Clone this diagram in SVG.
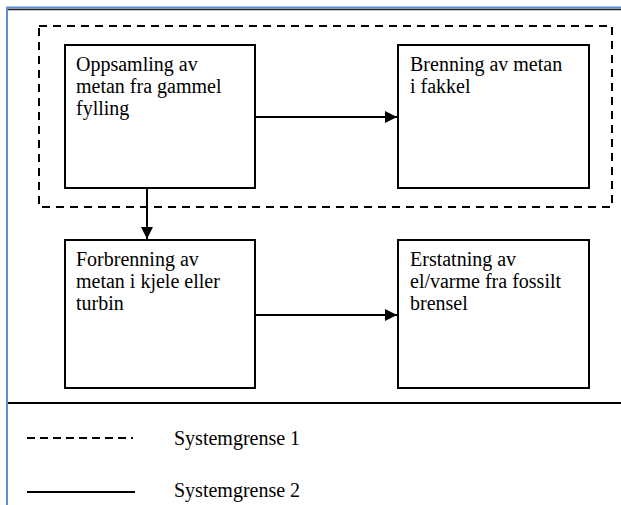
<svg xmlns="http://www.w3.org/2000/svg" width="621" height="505" viewBox="0 0 621 505">
<defs>
<marker id="ah" markerWidth="12" markerHeight="12" refX="12" refY="6" orient="auto" markerUnits="userSpaceOnUse">
<path d="M0,0 L12,6 L0,12 Z" fill="#000"/>
</marker>
<style>
.box{fill:#fff;stroke:#000;stroke-width:2}
.t{font-family:"Liberation Serif",serif;font-size:20px;fill:#000}
.c{stroke:#000;stroke-width:2;fill:none}
</style>
</defs>
<rect width="621" height="505" fill="#fff"/>
<g id="frame">
<line x1="6.5" y1="7.5" x2="621" y2="7.5" stroke="#5b8fd0" stroke-width="2"/>
<line x1="8" y1="9.5" x2="621" y2="9.5" stroke="#222" stroke-width="1.5"/>
<line x1="7" y1="7" x2="7" y2="505" stroke="#5b8fd0" stroke-width="2"/>
<line x1="8" y1="403" x2="621" y2="403" stroke="#000" stroke-width="2"/>
</g>
<g id="boundary1">
<rect x="39" y="26" width="573" height="181" fill="none" stroke="#000" stroke-width="2" stroke-dasharray="8,6"/>
</g>
<g id="n1">
<rect class="box" x="65" y="45" width="190" height="143"/>
<text class="t" x="76" y="71">Oppsamling av</text>
<text class="t" x="76" y="93">metan fra gammel</text>
<text class="t" x="76" y="115">fylling</text>
</g>
<g id="n2">
<rect class="box" x="398" y="45" width="191" height="143"/>
<text class="t" x="410" y="71">Brenning av metan</text>
<text class="t" x="410" y="93">i fakkel</text>
</g>
<g id="n3">
<rect class="box" x="65" y="240" width="190" height="148"/>
<text class="t" x="76" y="266">Forbrenning av</text>
<text class="t" x="76" y="288">metan i kjele eller</text>
<text class="t" x="76" y="310">turbin</text>
</g>
<g id="n4">
<rect class="box" x="398" y="240" width="191" height="148"/>
<text class="t" x="410" y="266">Erstatning av</text>
<text class="t" x="410" y="288">el/varme fra fossilt</text>
<text class="t" x="410" y="310">brensel</text>
</g>
<g id="connectors">
<line class="c" x1="255" y1="117" x2="397" y2="117" marker-end="url(#ah)"/>
<line class="c" x1="147" y1="188" x2="147" y2="239" marker-end="url(#ah)"/>
<line class="c" x1="255" y1="315" x2="397" y2="315" marker-end="url(#ah)"/>
</g>
<g id="legend">
<line x1="27" y1="438" x2="133" y2="438" stroke="#000" stroke-width="2" stroke-dasharray="8,5"/>
<text class="t" x="174" y="445">Systemgrense 1</text>
<line x1="27" y1="492" x2="135" y2="492" stroke="#000" stroke-width="2"/>
<text class="t" x="174" y="497">Systemgrense 2</text>
</g>
</svg>
